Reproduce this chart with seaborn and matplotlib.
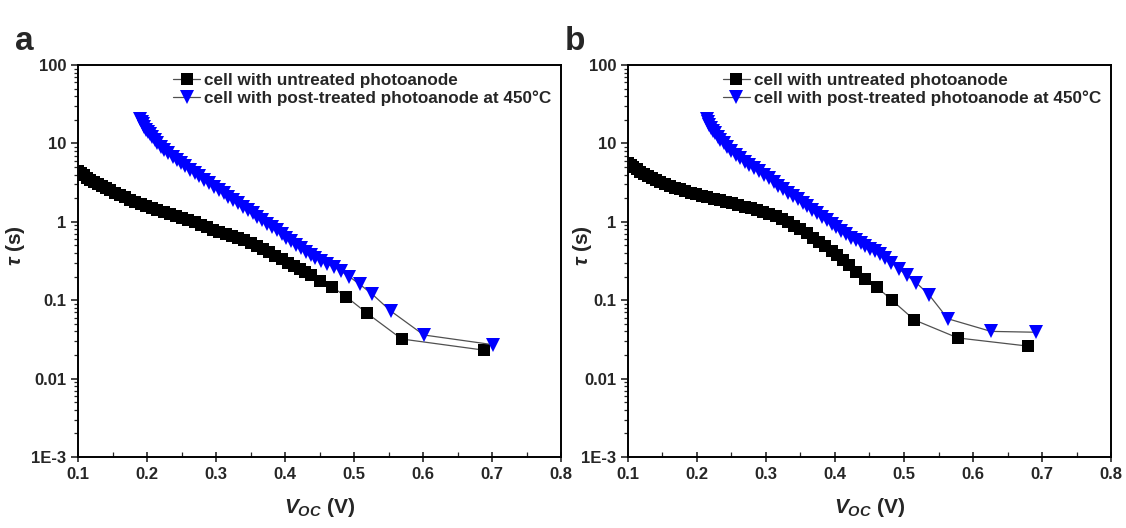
import numpy as np
import pandas as pd
import seaborn as sns
import matplotlib.pyplot as plt
from matplotlib.ticker import FixedLocator, FixedFormatter, MultipleLocator, LogLocator, NullFormatter

# Panel a
voc_a_untreated = [0.100, 0.104, 0.108, 0.113, 0.118, 0.123, 0.129, 0.135, 0.141, 0.147,
                   0.154, 0.161, 0.168, 0.175, 0.183, 0.191, 0.199, 0.207, 0.215, 0.224,
                   0.233, 0.242, 0.251, 0.260, 0.269, 0.278, 0.287, 0.296, 0.305, 0.314,
                   0.323, 0.332, 0.341, 0.350, 0.359, 0.368, 0.377, 0.386, 0.395, 0.404,
                   0.413, 0.421, 0.429, 0.438, 0.451, 0.468, 0.489, 0.519, 0.569, 0.689]
tau_a_untreated = [4.4, 4.15, 3.9, 3.65, 3.4, 3.2, 3.0, 2.85, 2.68, 2.52,
                   2.35, 2.2, 2.05, 1.92, 1.8, 1.68, 1.58, 1.49, 1.40, 1.32,
                   1.25, 1.18, 1.12, 1.05, 0.99, 0.92, 0.85, 0.79, 0.745, 0.70,
                   0.66, 0.62, 0.58, 0.535, 0.49, 0.45, 0.41, 0.37, 0.335, 0.30,
                   0.27, 0.25, 0.232, 0.21, 0.178, 0.148, 0.11, 0.068, 0.032, 0.023]
voc_a_treated = [0.190, 0.192, 0.194, 0.196, 0.198, 0.201, 0.204, 0.207, 0.211, 0.215,
                 0.220, 0.225, 0.231, 0.237, 0.243, 0.249, 0.255, 0.262, 0.269, 0.276,
                 0.283, 0.290, 0.297, 0.304, 0.311, 0.318, 0.325, 0.332, 0.339, 0.346,
                 0.353, 0.360, 0.367, 0.374, 0.381, 0.388, 0.395, 0.402, 0.409, 0.416,
                 0.423, 0.430, 0.437, 0.444, 0.452, 0.461, 0.471, 0.481, 0.493, 0.508,
                 0.526, 0.553, 0.601, 0.702]
tau_a_treated = [20.5, 18.8, 17.5, 16.2, 15, 14, 13, 12, 11, 10,
                 9.1, 8.3, 7.5, 6.8, 6.1, 5.6, 5.1, 4.6, 4.2, 3.8,
                 3.45, 3.1, 2.8, 2.55, 2.3, 2.1, 1.9, 1.72, 1.56, 1.42,
                 1.28, 1.16, 1.05, 0.95, 0.86, 0.78, 0.70, 0.63, 0.57, 0.51,
                 0.46, 0.415, 0.38, 0.35, 0.32, 0.29, 0.265, 0.235, 0.20, 0.160,
                 0.120, 0.073, 0.036, 0.027]

# Panel b
voc_b_untreated = [0.100, 0.104, 0.108, 0.113, 0.118, 0.123, 0.129, 0.135, 0.141, 0.147,
                   0.154, 0.161, 0.168, 0.175, 0.183, 0.191, 0.199, 0.207, 0.215, 0.224,
                   0.233, 0.242, 0.251, 0.260, 0.269, 0.278, 0.287, 0.296, 0.305, 0.314,
                   0.323, 0.332, 0.341, 0.350, 0.359, 0.368, 0.377, 0.386, 0.395, 0.403,
                   0.411, 0.420, 0.431, 0.444, 0.461, 0.4825, 0.515, 0.578, 0.679]
tau_b_untreated = [5.7, 5.3, 5.0, 4.65, 4.35, 4.1, 3.85, 3.65, 3.45, 3.25,
                   3.05, 2.88, 2.72, 2.6, 2.48, 2.36, 2.25, 2.15, 2.05, 1.95,
                   1.87, 1.8, 1.72, 1.64, 1.56, 1.48, 1.41, 1.33, 1.26, 1.18,
                   1.09, 0.99, 0.89, 0.80, 0.71, 0.63, 0.56, 0.49, 0.43, 0.38,
                   0.33, 0.28, 0.232, 0.187, 0.146, 0.100, 0.056, 0.033, 0.026]
voc_b_treated = [0.214, 0.216, 0.218, 0.220, 0.223, 0.226, 0.230, 0.234, 0.239, 0.244,
                 0.250, 0.256, 0.262, 0.269, 0.276, 0.283, 0.290, 0.297, 0.304, 0.311,
                 0.318, 0.325, 0.332, 0.339, 0.346, 0.353, 0.360, 0.367, 0.374, 0.381,
                 0.388, 0.395, 0.402, 0.409, 0.416, 0.423, 0.430, 0.437, 0.444, 0.451,
                 0.458, 0.465, 0.472, 0.4816, 0.493, 0.504, 0.518, 0.536, 0.5635, 0.626,
                 0.692]
tau_b_treated = [20.5, 18.5, 17, 15.8, 14.5, 13.4, 12.2, 11.1, 10, 9.0,
                 8.0, 7.2, 6.5, 5.85, 5.3, 4.8, 4.4, 4.0, 3.6, 3.25,
                 2.9, 2.6, 2.35, 2.15, 1.95, 1.75, 1.57, 1.42, 1.28, 1.16,
                 1.05, 0.95, 0.86, 0.77, 0.69, 0.63, 0.58, 0.53, 0.49, 0.45,
                 0.42, 0.39, 0.345, 0.30, 0.25, 0.207, 0.166, 0.118, 0.058, 0.040,
                 0.039]

labels = ['cell with untreated photoanode', 'cell with post-treated photoanode at 450°C']
panel_letters = ['a', 'b']
y_tick_values = [1e-3, 1e-2, 1e-1, 1, 10, 100]
y_tick_labels = ['1E-3', '0.01', '0.1', '1', '10', '100']

sns.set_style('ticks')
plt.rcParams['font.family'] = ['Liberation Sans', 'DejaVu Sans']
plt.rcParams['font.weight'] = 'bold'
plt.rcParams['mathtext.fontset'] = 'custom'
plt.rcParams['mathtext.it'] = 'Liberation Sans:bold:italic'
plt.rcParams['mathtext.rm'] = 'Liberation Sans:bold'
plt.rcParams['mathtext.bf'] = 'Liberation Sans:bold'

fig = plt.figure(figsize=(11.26, 5.28), dpi=100)
ax_a = fig.add_axes([0.0693, 0.1345, 0.429, 0.7424])
ax_b = fig.add_axes([0.5577, 0.1345, 0.429, 0.7424])

panels = [
    (ax_a, voc_a_untreated, tau_a_untreated, voc_a_treated, tau_a_treated, -0.105),
    (ax_b, voc_b_untreated, tau_b_untreated, voc_b_treated, tau_b_treated, -0.07),
]

for i, (ax, x1, y1, x2, y2, ylab_x) in enumerate(panels):
    df1 = pd.DataFrame({'voc': x1, 'tau': y1})
    df2 = pd.DataFrame({'voc': x2, 'tau': y2})
    sns.lineplot(data=df1, x='voc', y='tau', ax=ax, sort=False, color='#505050', lw=0.9,
                 marker='s', markersize=8.3, markerfacecolor='black', markeredgecolor='black',
                 markeredgewidth=0, label=labels[0])
    sns.lineplot(data=df2, x='voc', y='tau', ax=ax, sort=False, color='#505050', lw=0.9,
                 marker='v', markersize=10.5, markerfacecolor='#0000ff', markeredgecolor='#0000ff',
                 markeredgewidth=0, label=labels[1])
    ax.set_yscale('log')
    ax.set_xlim(0.1, 0.8)
    ax.set_ylim(1e-3, 100)
    ax.yaxis.set_major_locator(FixedLocator(y_tick_values))
    ax.yaxis.set_major_formatter(FixedFormatter(y_tick_labels))
    ax.yaxis.set_minor_locator(LogLocator(base=10, subs=np.arange(2, 10)))
    ax.yaxis.set_minor_formatter(NullFormatter())
    ax.xaxis.set_major_locator(MultipleLocator(0.1))
    ax.xaxis.set_minor_locator(MultipleLocator(0.05))
    ax.xaxis.set_major_formatter(plt.FuncFormatter(lambda v, p: f'{v:.1f}'))
    ax.tick_params(axis='both', which='major', labelsize=12, width=1.2, length=5)
    ax.tick_params(axis='y', which='major', direction='out', length=5)
    ax.tick_params(axis='y', which='minor', direction='out', length=3, width=0.9)
    ax.tick_params(axis='x', which='major', direction='inout', length=7)
    ax.tick_params(axis='x', which='minor', direction='in', length=3.5, width=0.9)
    for lab in ax.get_xticklabels() + ax.get_yticklabels():
        lab.set_fontweight('bold')
    for sp in ax.spines.values():
        sp.set_visible(True)
        sp.set_linewidth(1.4)
        sp.set_color('black')
    ax.set_xlabel(r'$V_{OC}$ (V)', fontsize=15, fontweight='bold', labelpad=10)
    ax.set_ylabel(r'$\tau$ (s)', fontsize=15, fontweight='bold')
    ax.yaxis.set_label_coords(ylab_x, 0.54)
    leg = ax.legend(loc='upper right', bbox_to_anchor=(1.0, 1.005), frameon=False,
                    fontsize=12.3, handlelength=1.6, handletextpad=0.2, labelspacing=0.1,
                    borderaxespad=0.2)
    for t in leg.get_texts():
        t.set_fontweight('bold')
    fig.text(ax.get_position().x0 - 0.056, 0.922, panel_letters[i], fontsize=24,
             fontweight='bold', ha='left', va='center')

fig.savefig('out.png', dpi=100)
